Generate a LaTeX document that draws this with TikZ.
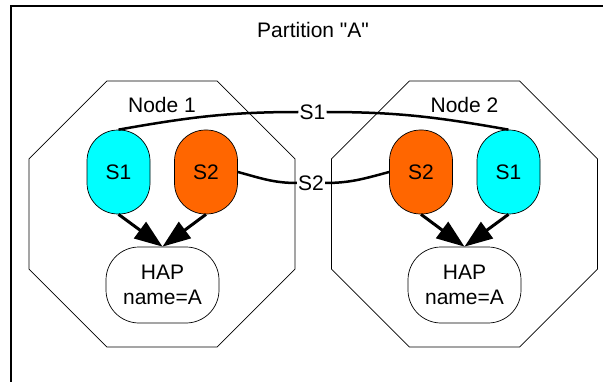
\documentclass[tikz,border=0pt]{standalone}
\usepackage{fontspec}
\setmainfont{Liberation Sans}[Ligatures=TeXOff]
\usetikzlibrary{shapes.geometric,arrows.meta}
\definecolor{svccyan}{RGB}{0,255,255}
\definecolor{svcorange}{RGB}{255,102,0}
\begin{document}
\begin{tikzpicture}[x=1pt,y=1pt,
  txt/.style={font=\fontsize{21}{25}\selectfont},
  octa/.style={draw,line width=0.7pt,regular polygon,regular polygon sides=8,minimum size=288pt,inner sep=0pt},
  svc/.style={draw,line width=0.7pt,rounded corners=31pt,minimum width=63pt,minimum height=84pt,inner sep=0pt,txt},
  hap/.style={draw,line width=0.7pt,rounded corners=33pt,minimum width=113pt,minimum height=76pt,inner sep=0pt,align=center,txt},
  arr/.style={line width=3pt,-{Triangle[length=28pt,width=20pt]}},
  conn/.style={line width=2.5pt},
  lbl/.style={txt,inner sep=1pt}
]
\useasboundingbox (0,0) rectangle (603,381);
% partition frame (top and left edges visible)
\draw[line width=2pt] (11,-10) -- (11,375) -- (620,375);
\node[txt] (part) at (313,351) {Partition "A"};
% octagons
\node[octa] (oct1) at (162,167) {};
\node[octa] (oct2) at (464.5,167) {};
\node[txt] (n1) at (162,276) {Node 1};
\node[txt] (n2) at (464.5,276) {Node 2};
% services
\node[svc,fill=svccyan] (s1a) at (118.5,209) {S1};
\node[svc,fill=svcorange] (s2a) at (206,209) {S2};
\node[svc,fill=svcorange] (s2b) at (421,209) {S2};
\node[svc,fill=svccyan] (s1b) at (508.5,209) {S1};
% HAP
\node[hap] (hapa) at (162.5,96) {HAP\\name=A};
\node[hap] (hapb) at (464.5,96) {HAP\\name=A};
% arrows
\draw[arr] (s1a.south) -- (hapa.north);
\draw[arr] (s2a.south) -- (hapa.north);
\draw[arr] (s2b.south) -- (hapb.north);
\draw[arr] (s1b.south) -- (hapb.north);
% connector labels
\node[lbl] (l1) at (312.5,269) {S1};
\node[lbl] (l2) at (311,198) {S2};
\draw[conn] (s1a.north) to[out=10,in=180] (l1.west);
\draw[conn] (l1.east) to[out=0,in=170] (s1b.north);
\draw[conn] (s2a.east) to[out=-15,in=180] (l2.west);
\draw[conn] (l2.east) to[out=0,in=195] (s2b.west);
\end{tikzpicture}
\end{document}
